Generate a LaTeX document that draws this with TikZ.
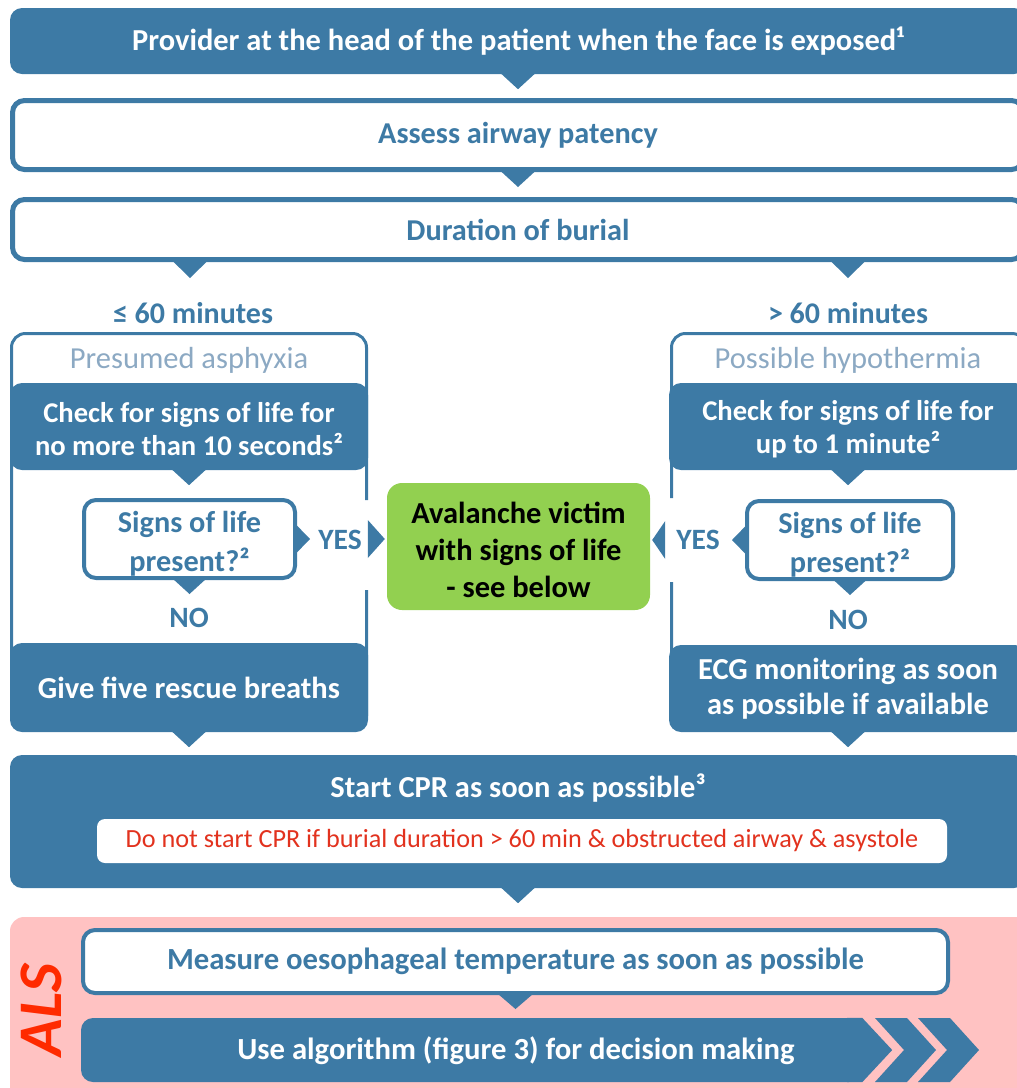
\documentclass[tikz,border=0pt]{standalone}
\usepackage{fontspec}
\setmainfont{Carlito}
\usetikzlibrary{calc}
\definecolor{cblue}{HTML}{3D7AA5}
\definecolor{clight}{HTML}{8CA9C3}
\definecolor{cgreen}{HTML}{92D050}
\definecolor{cpink}{HTML}{FFC2C2}
\definecolor{cred}{HTML}{E2321E}
\definecolor{calsred}{HTML}{FF2A00}
\newcommand\myfs[2]{\fontsize{#1}{#2}\selectfont}
\newcommand\ptrdown[3]{\fill[cblue] ($(#1)+(-#3,-0.6)$) -- ($(#1)+(#3,-0.6)$) -- ($(#1)+(0,#2)$) -- cycle;}
\newcommand\upstrut[1]{\rule{0pt}{#1}}
\begin{document}
\begin{tikzpicture}[x=1pt,y=-1pt,
  bluebox/.style={fill=cblue, text=white, rounded corners=12pt, inner sep=0pt, align=center, font=\myfs{30.5}{35}\bfseries},
  whitebox/.style={draw=cblue, line width=5pt, fill=white, text=cblue, rounded corners=12pt, inner sep=0pt, align=center, font=\myfs{30.3}{34}\bfseries},
  lbl/.style={text=cblue, inner sep=0pt, font=\myfs{29.5}{34}\bfseries},
  sublbl/.style={text=clight, inner sep=0pt, font=\myfs{30.5}{34}},
  frame/.style={draw=cblue, line width=3pt, rounded corners=14pt}
]
\useasboundingbox (0,0) rectangle (1017,1088);
\clip (0,0) rectangle (1017,1088);

% top sequence
\node[bluebox, minimum width=1016, minimum height=66] (top) at (518,41) {Provider at the head of the patient when the face is exposed¹};
\ptrdown{top.south}{15}{17}
\node[whitebox, minimum width=1011, minimum height=69] (assess) at (518,135) {Assess airway patency};
\ptrdown{assess.south}{15}{17}
\node[whitebox, minimum width=1011, minimum height=60] (dur) at (518,229.5) {Duration of burial};
\ptrdown{dur.south -| 190,0}{16}{17}
\ptrdown{dur.south -| 848,0}{16}{17}

\node[lbl, font=\myfs{30}{34}\bfseries] (le) at (193,313) {≤ 60 minutes};
\node[lbl, font=\myfs{30}{34}\bfseries] (gt) at (848,313) {> 60 minutes};

% left column
\draw[frame] (366.5,500) -- (366.5,333.5) -- (11.5,333.5) -- (11.5,730) -- (366.5,730) -- (366.5,590);
\node[sublbl] (presumed) at (189,360) {Presumed asphyxia};
\node[bluebox, minimum width=358, minimum height=87, font=\myfs{28.6}{33}\bfseries] (checkL) at (189,426.5) {\upstrut{26pt}Check for signs of life for\\no more than 10 seconds²};
\ptrdown{checkL.south}{15}{17}
\node[whitebox, line width=4pt, minimum width=211, minimum height=78, font=\myfs{30.3}{39}\bfseries] (signsL) at (189.5,539) {\upstrut{31pt}Signs of life\\present?²};
\ptrdown{signsL.south}{14}{16}
\fill[cblue] ($(signsL.east)+(-0.6,-14)$) -- ($(signsL.east)+(13,0)$) -- ($(signsL.east)+(-0.6,14)$) -- cycle;
\node[lbl] (yesL) at (340,540) {YES};
\node[lbl] (noL) at (189,618) {NO};
\node[bluebox, minimum width=358, minimum height=89] (giveL) at (189,687.5) {Give five rescue breaths};
\ptrdown{giveL.south}{15}{17}

% green
\node[fill=cgreen, rounded corners=15pt, minimum width=263, minimum height=127, inner sep=0pt, align=center, font=\myfs{30.5}{37}\bfseries] (green) at (518.5,546.5) {\upstrut{28pt}Avalanche victim\\with signs of life\\- see below};
\fill[cblue] ($(green.west |- signsL.east)+(-19,-19)$) -- ($(green.west |- signsL.east)+(-2,0)$) -- ($(green.west |- signsL.east)+(-19,19)$) -- cycle;

% right column
\draw[frame] (671.5,498) -- (671.5,333.5) -- (1026,333.5) -- (1026,730) -- (671.5,730) -- (671.5,582);
\node[sublbl] (possible) at (848,360) {Possible hypothermia};
\node[bluebox, minimum width=358, minimum height=87, font=\myfs{28.6}{33}\bfseries] (checkR) at (848,426.5) {\upstrut{26pt}Check for signs of life for\\up to 1 minute²};
\ptrdown{checkR.south}{15}{17}
\node[whitebox, line width=4pt, minimum width=206, minimum height=78, font=\myfs{30.3}{39}\bfseries] (signsR) at (850,540) {\upstrut{31pt}Signs of life\\present?²};
\ptrdown{signsR.south}{14}{16}
\fill[cblue] ($(signsR.west)+(0.6,-14)$) -- ($(signsR.west)+(-13,0)$) -- ($(signsR.west)+(0.6,14)$) -- cycle;
\node[lbl] (yesR) at (698,540) {YES};
\node[lbl] (noR) at (848,620) {NO};
\node[bluebox, minimum width=358, minimum height=87, font=\myfs{30.5}{35}\bfseries] (ecgR) at (848,688.5) {ECG monitoring as soon\\as possible if available};
\ptrdown{ecgR.south}{15}{17}
\fill[cblue] ($(green.east |- signsR.west)+(2,0)$) -- ($(green.east |- signsR.west)+(15,-19)$) -- ($(green.east |- signsR.west)+(15,19)$) -- cycle;

% CPR
\node[bluebox, minimum width=1016, minimum height=133] (cpr) at (518,821.5) {};
\node[text=white, inner sep=0pt, font=\myfs{30.5}{35}\bfseries] (cprlabel) at (518,788) {Start CPR as soon as possible³};
\node[fill=white, rounded corners=8pt, minimum width=850, minimum height=44, inner sep=0pt, text=cred, font=\myfs{26.2}{30}] (dont) at (522,841) {Do not start CPR if burial duration > 60 min \& obstructed airway \& asystole};
\ptrdown{cpr.south}{15}{17}

% ALS
\fill[cpink, rounded corners=14pt] (10,917) rectangle (1040,1110);
\node[rotate=90, text=calsred, inner sep=0pt, font=\myfs{62}{62}\bfseries\itshape] (als) at (41,1010) {ALS};
\node[whitebox, line width=4pt, minimum width=865, minimum height=63, font=\myfs{30.7}{35}\bfseries] (measure) at (515.5,961.5) {Measure oesophageal temperature as soon as possible};
\ptrdown{measure.south}{14}{17}
\node[fill=cblue, rounded corners=12pt, minimum width=780, minimum height=64, inner sep=0pt] (use) at (471,1050) {};
\fill[cblue] ($(use.north east)+(-14,0)$) -- ($(use.north east)+(1,0)$) -- ($(use.east)+(31,0)$) -- ($(use.south east)+(1,0)$) -- ($(use.south east)+(-14,0)$) -- cycle;
\node[text=white, inner sep=0pt, font=\myfs{30.7}{35}\bfseries] (uselabel) at (516,1051) {Use algorithm (figure 3) for decision making};
\fill[cblue] (875,1018) -- (907,1018) -- (936,1050) -- (907,1082) -- (875,1082) -- (904,1050) -- cycle;
\fill[cblue] (918,1018) -- (950,1018) -- (979,1050) -- (950,1082) -- (918,1082) -- (947,1050) -- cycle;
\end{tikzpicture}
\end{document}
